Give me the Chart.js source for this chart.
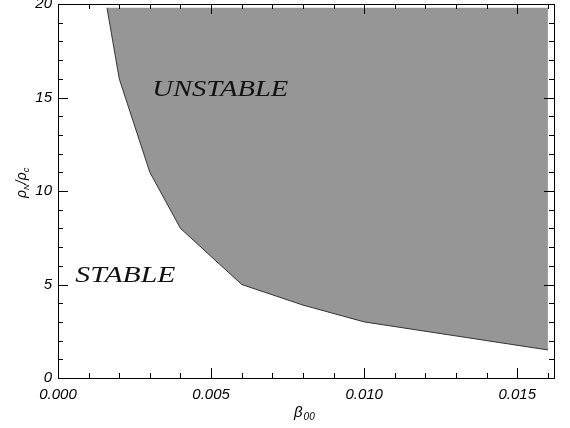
<!DOCTYPE html>
<html>
<head>
<meta charset="utf-8">
<script src="https://cdn.jsdelivr.net/npm/chart.js@4.4.1/dist/chart.umd.min.js"></script>
<style>
  html, body { margin: 0; padding: 0; background: #fff; }
  #wrap { width: 570px; height: 428px; position: relative; }
</style>
</head>
<body>
<div id="wrap"><canvas id="stabChart"></canvas></div>
<script>
// boundary between stable and unstable regions
const beta00 = [0.0016, 0.002, 0.003, 0.004, 0.006, 0.008, 0.010, 0.016];
const rhoRatio = [19.8, 16, 11, 8, 5, 3.9, 3, 1.5];
const rhoTop = 19.8;

// axis ranges and ticks
const xMin = 0, xMax = 0.0162, xMajor = 0.005, xMinor = 0.001;
const yMin = 0, yMax = 20, yMajor = 5, yMinor = 1;

// region labels (data coords)
const regionLabels = [
  { text: "UNSTABLE", x: 0.0053, y: 15.4, width: 136 },
  { text: "STABLE", x: 0.0022, y: 5.45, width: 100 },
];

const points = beta00.map((b, i) => ({ x: b, y: rhoRatio[i] }));

const framePlugin = {
  id: "frame",
  afterDatasetsDraw(chart) {
    const { ctx, chartArea: a, scales } = chart;
    const xs = scales.x, ys = scales.y;
    ctx.save();

    // region labels
    ctx.fillStyle = "#111";
    ctx.textAlign = "center";
    ctx.textBaseline = "middle";
    ctx.font = "italic 23px 'Liberation Serif'";
    regionLabels.forEach((l) => {
      const px = xs.getPixelForValue(l.x);
      const py = ys.getPixelForValue(l.y);
      const w = ctx.measureText(l.text).width;
      ctx.save();
      ctx.translate(px, py);
      ctx.scale(l.width / w, 1);
      ctx.fillText(l.text, 0, 0);
      ctx.restore();
    });

    // box
    ctx.strokeStyle = "#000";
    ctx.lineWidth = 1;
    ctx.strokeRect(Math.round(a.left) + 0.5, Math.round(a.top) + 0.5,
      Math.round(a.right - a.left), Math.round(a.bottom - a.top));

    // inward ticks on all four sides
    ctx.beginPath();
    for (let i = 0; xMin + i * xMinor <= xMax + 1e-9; i++) {
      const v = xMin + i * xMinor;
      const len = i % 5 === 0 ? 10 : 5;
      const px = Math.round(xs.getPixelForValue(v)) + 0.5;
      ctx.moveTo(px, a.bottom); ctx.lineTo(px, a.bottom - len);
      ctx.moveTo(px, a.top); ctx.lineTo(px, a.top + len);
    }
    for (let i = 0; yMin + i * yMinor <= yMax + 1e-9; i++) {
      const v = yMin + i * yMinor;
      const len = i % 5 === 0 ? 10 : 5;
      const py = Math.round(ys.getPixelForValue(v)) + 0.5;
      ctx.moveTo(a.left, py); ctx.lineTo(a.left + len, py);
      ctx.moveTo(a.right, py); ctx.lineTo(a.right - len, py);
    }
    ctx.stroke();

    // x title: beta_00
    ctx.fillStyle = "#000";
    ctx.textAlign = "left";
    ctx.textBaseline = "alphabetic";
    ctx.font = "italic 15px 'Liberation Sans'";
    const bx = 294, by = 417;
    ctx.fillText("β", bx, by);
    const bw = ctx.measureText("β").width;
    ctx.font = "italic 10px 'Liberation Sans'";
    ctx.fillText("00", bx + bw + 1, by + 3);

    // y title: rho_N / rho_c
    ctx.save();
    ctx.translate(26, 198);
    ctx.rotate(-Math.PI / 2);
    let cx = 0;
    const part = (t, size, dy) => {
      ctx.font = "italic " + size + "px 'Liberation Sans'";
      ctx.fillText(t, cx, dy);
      cx += ctx.measureText(t).width;
    };
    part("ρ", 14, 0);
    part("N", 8, 3);
    part("/", 14, 0);
    part("ρ", 14, 0);
    part("c", 9, 3);
    ctx.restore();

    ctx.restore();
  },
};

const ctx = document.getElementById("stabChart").getContext("2d");
new Chart(ctx, {
  type: "line",
  data: {
    datasets: [
      {
        data: points,
        borderColor: "#333",
        borderWidth: 1,
        backgroundColor: "#969696",
        pointRadius: 0,
        tension: 0,
        fill: { target: { value: rhoTop } },
      },
    ],
  },
  options: {
    responsive: true,
    maintainAspectRatio: false,
    animation: false,
    layout: { padding: { top: 4, right: 16, left: 0, bottom: 0 } },
    plugins: { legend: { display: false }, tooltip: { enabled: false } },
    scales: {
      x: {
        type: "linear",
        min: xMin,
        max: xMax,
        grid: { display: false, drawTicks: false },
        border: { display: false },
        afterFit: (s) => { s.height = 50; s.paddingLeft = 0; s.paddingRight = 0; },
        ticks: {
          stepSize: xMinor,
          autoSkip: false,
          maxRotation: 0,
          padding: 8,
          color: "#000",
          font: { family: "Liberation Sans", style: "italic", size: 15 },
          callback: (v) => {
            const k = Math.round(v / xMinor);
            return k % 5 === 0 && Math.abs(v - k * xMinor) < 1e-9 ? v.toFixed(3) : "";
          },
        },
      },
      y: {
        type: "linear",
        min: yMin,
        max: yMax,
        grid: { display: false, drawTicks: false },
        border: { display: false },
        afterFit: (s) => { s.width = 58; s.paddingTop = 0; s.paddingBottom = 0; },
        ticks: {
          stepSize: yMinor,
          autoSkip: false,
          padding: 6,
          color: "#000",
          font: { family: "Liberation Sans", style: "italic", size: 15 },
          callback: (v) => (v % yMajor === 0 ? String(v) : ""),
        },
      },
    },
  },
  plugins: [framePlugin],
});
</script>
</body>
</html>
